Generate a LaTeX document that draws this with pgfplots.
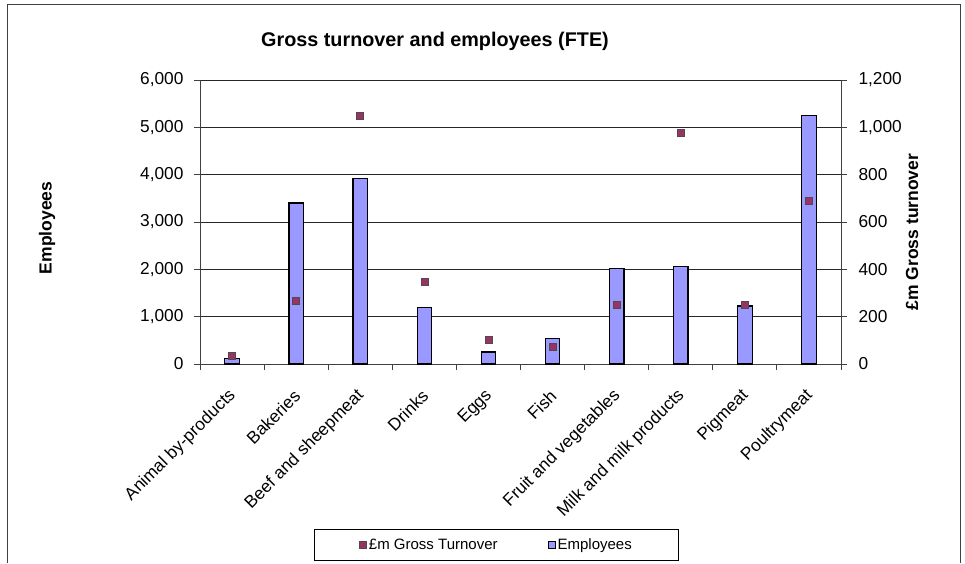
\documentclass[border=0pt]{standalone}
\usepackage{fontspec}
\setmainfont{Liberation Sans}
\usepackage{pgfplots}
\usepackage{pgfplotstable}
\pgfplotsset{compat=1.18}

\definecolor{barblue}{HTML}{9999FF}
\definecolor{plum}{HTML}{993366}
\definecolor{framegray}{HTML}{404040}

% idx: category position, emp: employees (FTE), turn: gross turnover (GBP m)
\pgfplotstableread{
idx emp turn
0 110 34
1 3400 265
2 3920 1049
3 1190 348
4 253 100
5 535 73
6 2014 248
7 2063 977
8 1225 251
9 5246 689
}\datatable

\newcommand{\tickfont}{\fontsize{17.3}{20}\selectfont}

\begin{document}
\begin{tikzpicture}
\path[use as bounding box] (0pt,0pt) rectangle (965pt,563pt);
\draw[framegray, line width=1pt] (7pt,0pt) -- (7pt,558pt) -- (960pt,558pt) -- (960pt,0pt);

\begin{axis}[
    at={(200pt,199pt)}, anchor=south west,
    scale only axis, width=641pt, height=284pt,
    xmin=-0.5, xmax=9.5, ymin=0, ymax=6000,
    axis x line*=bottom, axis y line*=left,
    axis line style={framegray, line width=1pt},
    tick align=outside,
    major tick length=6pt, minor tick length=6pt,
    tick style={framegray, line width=1pt},
    xtick={0,...,9},
    xticklabels={Animal by-products, Bakeries, Beef and sheepmeat, Drinks, Eggs, Fish, Fruit and vegetables, Milk and milk products, Pigmeat, Poultrymeat},
    major x tick style={draw=none},
    minor xtick={-0.5,0.5,...,9.5},
    ytick={0,1000,...,6000},
    scaled y ticks=false,
    /pgf/number format/assume math mode=true,
    /pgf/number format/1000 sep={,},
    ymajorgrids=true,
    major grid style={black!85, line width=0.9pt},
    ticklabel style={font=\tickfont, text=black},
    yticklabel style={xshift=-7pt},
    xticklabel style={yshift=-23pt, xshift=1pt, rotate=45, anchor=east, inner sep=0pt},
    title={Gross turnover and employees (FTE)},
    title style={at={(0.3666,1.116)}, anchor=center, font=\bfseries\fontsize{19.8}{22}\selectfont},
    ylabel={Employees},
    every axis y label/.style={at={(-0.2387,0.479)}, rotate=90, anchor=center, font=\bfseries\fontsize{17.5}{20}\selectfont},
]
\addplot[ybar, bar width=14.5pt, fill=barblue, draw=black, line width=1.2pt] table[x=idx, y=emp] {\datatable};
\end{axis}

\begin{axis}[
    at={(200pt,199pt)}, anchor=south west,
    scale only axis, width=641pt, height=284pt,
    xmin=-0.5, xmax=9.5, ymin=0, ymax=1200,
    axis x line=none, axis y line*=right,
    axis line style={framegray, line width=1pt},
    tick align=outside,
    major tick length=6pt,
    tick style={framegray, line width=1pt},
    ytick={0,200,...,1200},
    scaled y ticks=false,
    /pgf/number format/assume math mode=true,
    /pgf/number format/1000 sep={,},
    ticklabel style={font=\tickfont, text=black},
    yticklabel style={xshift=8pt},
    ylabel={£m Gross turnover},
    every axis y label/.style={at={(1.1108,0.4648)}, rotate=90, anchor=center, font=\bfseries\fontsize{17.5}{20}\selectfont},
    legend columns=2,
    legend style={at={(0.4626,-0.637)}, anchor=center, draw=black, line width=1pt,
        font=\fontsize{15}{18}\selectfont, inner xsep=45pt, inner ysep=7pt,
        /tikz/every even column/.append style={column sep=48pt}},
]
\addplot[only marks, mark=square*, mark size=3.5pt,
    mark options={fill=plum, draw=black!70, line width=0.7pt},
    legend image code/.code={\draw[fill=plum, draw=black!70, line width=0.7pt] (0pt,-3.5pt) rectangle (7pt,3.5pt);}]
    table[x=idx, y=turn] {\datatable};
\addlegendentry{£m Gross Turnover}
\addlegendimage{legend image code/.code={\draw[fill=barblue, draw=black, line width=1pt] (0pt,-3.5pt) rectangle (7pt,3.5pt);}}
\addlegendentry{Employees}
\end{axis}
\end{tikzpicture}
\end{document}
